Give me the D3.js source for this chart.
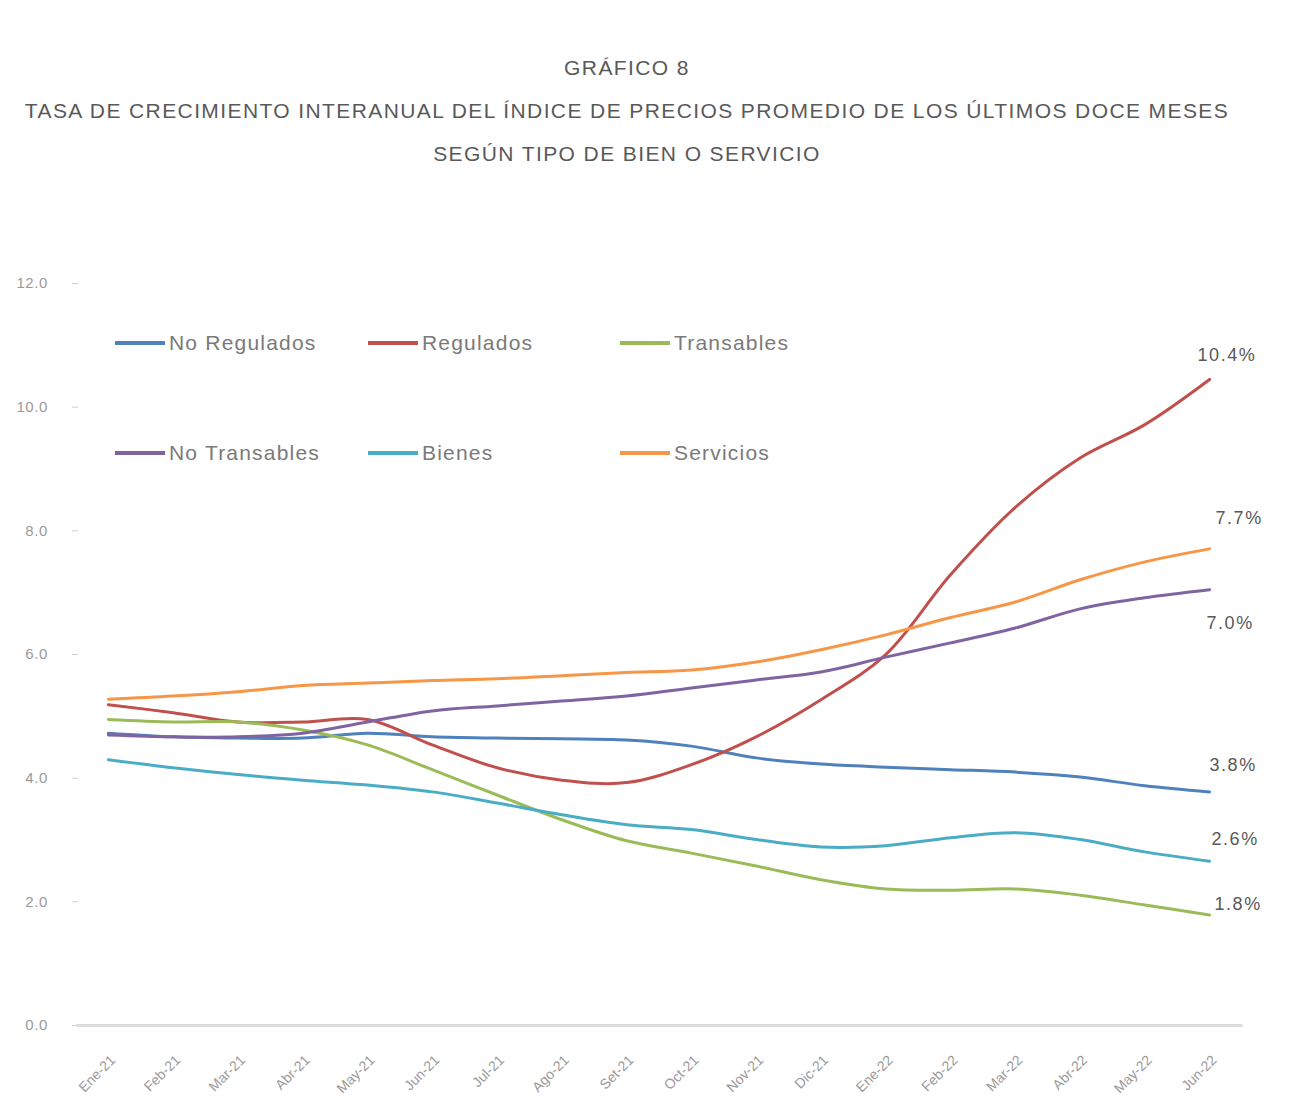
<!DOCTYPE html>
<html>
<head>
<meta charset="utf-8">
<script src="https://cdn.jsdelivr.net/npm/d3@7"></script>
<style>
  body { margin: 0; background: #ffffff; }
</style>
</head>
<body>
<div id="chart"></div>
<script>
// DATA
var months = ["Ene-21","Feb-21","Mar-21","Abr-21","May-21","Jun-21","Jul-21","Ago-21","Set-21",
              "Oct-21","Nov-21","Dic-21","Ene-22","Feb-22","Mar-22","Abr-22","May-22","Jun-22"];

var seriesNames = ["No Regulados","Regulados","Transables","No Transables","Bienes","Servicios"];

var noRegulados   = [4.72,4.66,4.64,4.64,4.72,4.66,4.64,4.63,4.61,4.51,4.32,4.22,4.17,4.13,4.09,4.01,3.87,3.77];
var regulados     = [5.18,5.05,4.90,4.90,4.94,4.53,4.16,3.96,3.92,4.21,4.66,5.26,5.99,7.28,8.37,9.17,9.71,10.44];
var transables    = [4.94,4.90,4.90,4.77,4.53,4.13,3.72,3.32,2.98,2.78,2.57,2.35,2.20,2.18,2.20,2.10,1.94,1.78];
var noTransables  = [4.69,4.66,4.66,4.72,4.90,5.08,5.16,5.24,5.32,5.45,5.58,5.71,5.95,6.18,6.42,6.73,6.91,7.04];
var bienes        = [4.29,4.16,4.05,3.96,3.88,3.77,3.59,3.40,3.24,3.16,3.00,2.88,2.90,3.03,3.11,3.00,2.80,2.65];
var servicios     = [5.27,5.32,5.39,5.49,5.53,5.57,5.60,5.65,5.70,5.74,5.87,6.07,6.31,6.59,6.84,7.20,7.49,7.70];

var endLabels = ["3.8%","10.4%","1.8%","7.0%","2.6%","7.7%"];
var yTicks = [0, 2, 4, 6, 8, 10, 12];

var width = 1316,
    height = 1115;

var font = "'Liberation Sans', Arial, sans-serif";
var colors = ["#4F81BD","#C0504D","#9BBB59","#8064A2","#4BACC6","#F79646"];
// where each end label sits relative to the last point
var labelDx = [0, -12, 5, -3, 2, 6],
    labelDy = [-27, -25, -11, 33, -22, -31];

var allSeries = [noRegulados, regulados, transables, noTransables, bienes, servicios];
var data = seriesNames.map(function(n, i){ return {name: n, values: allSeries[i], color: colors[i], label: endLabels[i]}; });

var svg = d3.select("#chart").append("svg")
    .attr("width", width)
    .attr("height", height)
    .attr("font-family", font);

// TITLE
var titleLines = ["GRÁFICO 8",
    "TASA DE CRECIMIENTO INTERANUAL DEL ÍNDICE DE PRECIOS PROMEDIO DE LOS ÚLTIMOS DOCE MESES",
    "SEGÚN TIPO DE BIEN O SERVICIO"];

svg.append("g")
    .attr("class", "title")
    .selectAll("text")
    .data(titleLines)
    .enter()
    .append("text")
    .attr("x", 627)
    .attr("y", function(d, i){ return 75 + i * 43; })
    .attr("text-anchor", "middle")
    .attr("font-size", 21)
    .attr("letter-spacing", 1.4)
    .attr("fill", "#595959")
    .text(function(d){ return d; });

// SCALES
var x = d3.scaleBand()
    .domain(months)
    .range([76, 1242]);

var y = d3.scaleLinear()
    .domain([0, 12])
    .range([1025, 283]);

// Y AXIS (labels and small ticks only)
var yAxis = svg.append("g")
    .attr("class", "y-axis")
    .attr("transform", "translate(78,0)")
    .call(d3.axisLeft(y).tickValues(yTicks).tickSize(6).tickPadding(24).tickFormat(d3.format(".1f")));

yAxis.select(".domain").remove();
yAxis.selectAll("line").attr("stroke", "#d0d0d0");
yAxis.selectAll("text")
    .attr("font-size", 15)
    .attr("letter-spacing", 0.6)
    .attr("fill", "#9a9a9a")
    .attr("font-family", font);

// X AXIS
var xAxis = svg.append("g")
    .attr("class", "x-axis")
    .attr("transform", "translate(0," + y(0) + ")")
    .call(d3.axisBottom(x).tickSize(0).tickPadding(0));

xAxis.select(".domain")
    .attr("stroke", "#dcdcdc")
    .attr("stroke-width", 3);

xAxis.selectAll("text")
    .attr("font-size", 14)
    .attr("fill", "#9a9a9a")
    .attr("font-family", font)
    .attr("text-anchor", "end")
    .attr("dy", 0)
    .attr("transform", "translate(8,36) rotate(-45)");

// LINES
var line = d3.line()
    .x(function(d, i){ return x(months[i]) + x.bandwidth() / 2; })
    .y(function(d){ return y(d); })
    .curve(d3.curveCatmullRom.alpha(0.5));

svg.append("g")
    .attr("class", "lines")
    .selectAll("path")
    .data(data)
    .enter()
    .append("path")
    .attr("d", function(d){ return line(d.values); })
    .attr("fill", "none")
    .attr("stroke", function(d){ return d.color; })
    .attr("stroke-width", 3)
    .attr("stroke-linecap", "round");

// END LABELS
var last = months[months.length - 1];
svg.append("g")
    .attr("class", "end-labels")
    .selectAll("text")
    .data(data)
    .enter()
    .append("text")
    .attr("x", function(d, i){ return x(last) + x.bandwidth() / 2 + labelDx[i]; })
    .attr("y", function(d, i){ return y(d.values[d.values.length - 1]) + labelDy[i]; })
    .attr("dy", "0.35em")
    .attr("text-anchor", "start")
    .attr("font-size", 18)
    .attr("letter-spacing", 1.5)
    .attr("fill", "#595959")
    .text(function(d){ return d.label; });

// LEGEND
var legendX = [115, 368, 620],
    legendY = [343, 453];

var legend = svg.append("g")
    .attr("class", "legend")
    .selectAll("g")
    .data(data)
    .enter()
    .append("g")
    .attr("transform", function(d, i){ return "translate(" + legendX[i % 3] + "," + legendY[Math.floor(i / 3)] + ")"; });

legend.append("line")
    .attr("x1", 0)
    .attr("x2", 50)
    .attr("stroke", function(d){ return d.color; })
    .attr("stroke-width", 4);

legend.append("text")
    .attr("x", 54)
    .attr("dy", "0.35em")
    .attr("font-size", 21)
    .attr("letter-spacing", 1.2)
    .attr("fill", "#7a7a7a")
    .text(function(d){ return d.name; });
</script>
</body>
</html>
